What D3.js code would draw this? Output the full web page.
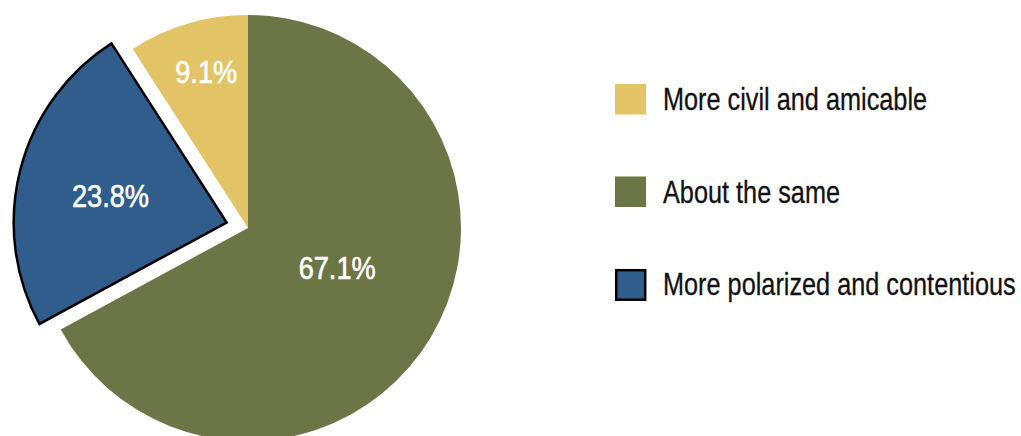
<!DOCTYPE html>
<html>
<head>
<meta charset="utf-8">
<script src="https://cdn.jsdelivr.net/npm/d3@7"></script>
<style>
  html, body { margin: 0; padding: 0; background: #fff; }
  svg { display: block; }
  text { font-family: "Liberation Sans", Arial, Helvetica, sans-serif; }
</style>
</head>
<body>
<svg id="chart" width="1021" height="436"></svg>
<script>
// Survey answers, in pie drawing order (clockwise from 12 o'clock)
const categories = ["About the same", "More polarized and contentious", "More civil and amicable"];
const shares = [67.1, 23.8, 9.1];
const colors = ["#6b7545", "#305d8c", "#e2c366"];
// Legend lists the answers from the most civil to the most contentious
const legendOrder = ["More civil and amicable", "About the same", "More polarized and contentious"];

// Pulled-out slice and where each percentage sits (angle in degrees, distance as share of radius)
const explodedSlice = "More polarized and contentious";
const labelAngles = [114, 283, 345];
const labelRadii = [0.458, 0.56, 0.758];

const W = 1021, H = 436;
const cx = 248, cy = 228, R = 213, explode = 22;

const svg = d3.select("#chart");
const color = d3.scaleOrdinal().domain(categories).range(colors);

const data = categories.map((c, i) => ({ name: c, value: shares[i], i }));
const pie = d3.pie().sort(null).value(d => d.value).startAngle(0);
const arc = d3.arc().innerRadius(0).outerRadius(R);
const arcs = pie(data);

const g = svg.append("g").attr("transform", `translate(${cx},${cy})`);

function offsetOf(d) {
  if (d.data.name !== explodedSlice) return [0, 0];
  const mid = (d.startAngle + d.endAngle) / 2;
  return [Math.sin(mid) * explode, -Math.cos(mid) * explode];
}

const slices = g.selectAll("g.slice").data(arcs).join("g")
  .attr("class", "slice")
  .attr("transform", d => `translate(${offsetOf(d)})`);

slices.append("path")
  .attr("d", arc)
  .attr("fill", d => color(d.data.name))
  .attr("stroke", d => d.data.name === explodedSlice ? "#000" : "none")
  .attr("stroke-width", 2.5)
  .attr("stroke-linejoin", "miter");

const fmt = d3.format(".1f");
slices.append("text")
  .attr("transform", d => {
    const a = labelAngles[d.data.i] * Math.PI / 180;
    const r = labelRadii[d.data.i] * R;
    return `translate(${Math.sin(a) * r},${-Math.cos(a) * r + 11}) scale(0.885,1)`;
  })
  .attr("text-anchor", "middle")
  .attr("fill", "#fff")
  .attr("stroke", "#fff")
  .attr("stroke-width", 0.6)
  .attr("font-size", 30.7)
  .text(d => fmt(d.value) + "%");

// Legend
const legendY = d3.scalePoint().domain(legendOrder).range([84, 269]);
const legend = svg.append("g").attr("transform", "translate(615,0)");
const items = legend.selectAll("g").data(legendOrder).join("g")
  .attr("transform", d => `translate(0,${legendY(d)})`);

items.append("rect")
  .attr("x", d => d === explodedSlice ? 1.2 : 0)
  .attr("y", d => d === explodedSlice ? 1.2 : 0)
  .attr("width", d => d === explodedSlice ? 29 : 31)
  .attr("height", d => d === explodedSlice ? 29.5 : 30.5)
  .attr("fill", d => color(d))
  .attr("stroke", d => d === explodedSlice ? "#000" : "none")
  .attr("stroke-width", 2.5);

items.append("text")
  .attr("transform", "translate(48,26) scale(0.79,1)")
  .attr("fill", "#111")
  .attr("stroke", "#111")
  .attr("stroke-width", 0.3)
  .attr("font-size", 32)
  .text(d => d);
</script>
</body>
</html>
